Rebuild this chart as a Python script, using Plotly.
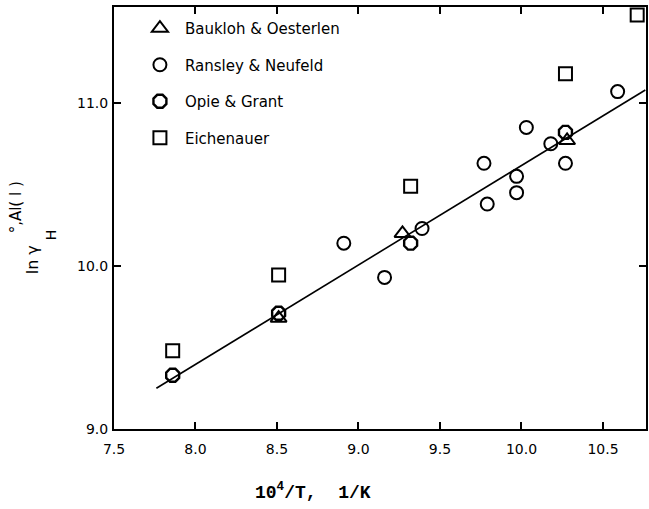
import plotly.graph_objects as go

# Hydrogen activity coefficient in liquid aluminium vs reciprocal temperature
baukloh_x = [8.51, 9.27, 10.28]
baukloh_y = [9.68, 10.20, 10.77]

ransley_x = [8.91, 9.16, 9.39, 9.77, 9.79, 9.97, 9.97, 10.03, 10.18, 10.27, 10.59]
ransley_y = [10.14, 9.93, 10.23, 10.63, 10.38, 10.55, 10.45, 10.85, 10.75, 10.63, 11.07]

opie_x = [7.86, 8.51, 9.32, 10.27]
opie_y = [9.33, 9.71, 10.14, 10.82]

eichenauer_x = [7.86, 8.51, 9.32, 10.27, 10.71]
eichenauer_y = [9.48, 9.945, 10.49, 11.18, 11.54]

fit_x = [7.76, 10.76]
fit_y = [9.25, 11.08]

x_ticks = [7.5, 8.0, 8.5, 9.0, 9.5, 10.0, 10.5]
x_tick_text = ["7.5", "8.0", "8.5", "9.0", "9.5", "10.0", "10.5"]
y_ticks = [9.0, 10.0, 11.0]
y_tick_text = ["9.0", "10.0", "11.0"]

W, H = 649, 509
L, R, T, B = 114, 1, 7, 80
pw, ph = W - L - R, H - T - B


def px(x):
    return (x - L) / pw


def py(y):
    return (H - B - y) / ph


fig = go.Figure()

fig.add_trace(go.Scatter(
    x=fit_x, y=fit_y, mode="lines", showlegend=False,
    line=dict(color="black", width=1.6)))

mk = dict(color="black", size=13, line=dict(color="black", width=2))

fig.add_trace(go.Scatter(
    x=baukloh_x, y=baukloh_y, mode="markers", name="Baukloh & Oesterlen",
    legendgroup="a", marker=dict(mk, symbol="triangle-up-open", size=14)))
fig.add_trace(go.Scatter(
    x=ransley_x, y=ransley_y, mode="markers", name="Ransley & Neufeld",
    legendgroup="b", marker=dict(mk, symbol="circle-open")))
fig.add_trace(go.Scatter(
    x=opie_x, y=opie_y, mode="markers", name="Opie & Grant",
    legendgroup="c", marker=dict(mk, symbol="octagon-open", size=14,
                                 line=dict(color="black", width=2.4))))
fig.add_trace(go.Scatter(
    x=eichenauer_x, y=eichenauer_y, mode="markers", name="Eichenauer",
    legendgroup="d", marker=dict(mk, symbol="square-open", size=13)))

axis_common = dict(
    showgrid=False, zeroline=False, showline=True, linecolor="black",
    linewidth=2, mirror="ticks", ticks="inside", ticklen=7, tickwidth=1.5,
    tickcolor="black", tickfont=dict(family="DejaVu Sans", size=14, color="black"))

fig.update_xaxes(axis_common, range=[7.5, 7.5 + pw / 163.6],
                 tickvals=x_ticks, ticktext=x_tick_text, ticklabelstandoff=6)
fig.update_yaxes(axis_common, range=[9.0, 9.0 + ph / 163.0],
                 tickvals=y_ticks, ticktext=y_tick_text, ticklabelstandoff=1)

annots = [
    dict(text="ln γ", x=px(32), y=py(260), size=16),
    dict(text="H", x=px(51), y=py(235), size=14),
    dict(text="°,Al( l )", x=px(16), y=py(207), size=15),
]
for a in annots:
    fig.add_annotation(
        xref="paper", yref="paper", showarrow=False, textangle=-90,
        xanchor="center", yanchor="middle",
        font=dict(family="DejaVu Sans", color="black", size=a["size"]),
        text=a["text"], x=a["x"], y=a["y"])

fig.add_annotation(
    xref="paper", yref="paper", showarrow=False,
    text="<b>10<sup>4</sup>/T,\u00a0\u00a01/K</b>",
    x=px(314), y=py(492), xanchor="center", yanchor="middle",
    font=dict(family="Liberation Mono", size=18, color="black"))

fig.update_layout(
    width=W, height=H,
    margin=dict(l=L, r=R, t=T, b=B),
    paper_bgcolor="white", plot_bgcolor="white",
    legend=dict(
        x=px(135), y=py(12), xanchor="left", yanchor="top",
        bgcolor="rgba(0,0,0,0)", borderwidth=0, itemwidth=40,
        tracegroupgap=14,
        font=dict(family="DejaVu Sans", size=15, color="black")),
)

fig.write_html("out.html")
